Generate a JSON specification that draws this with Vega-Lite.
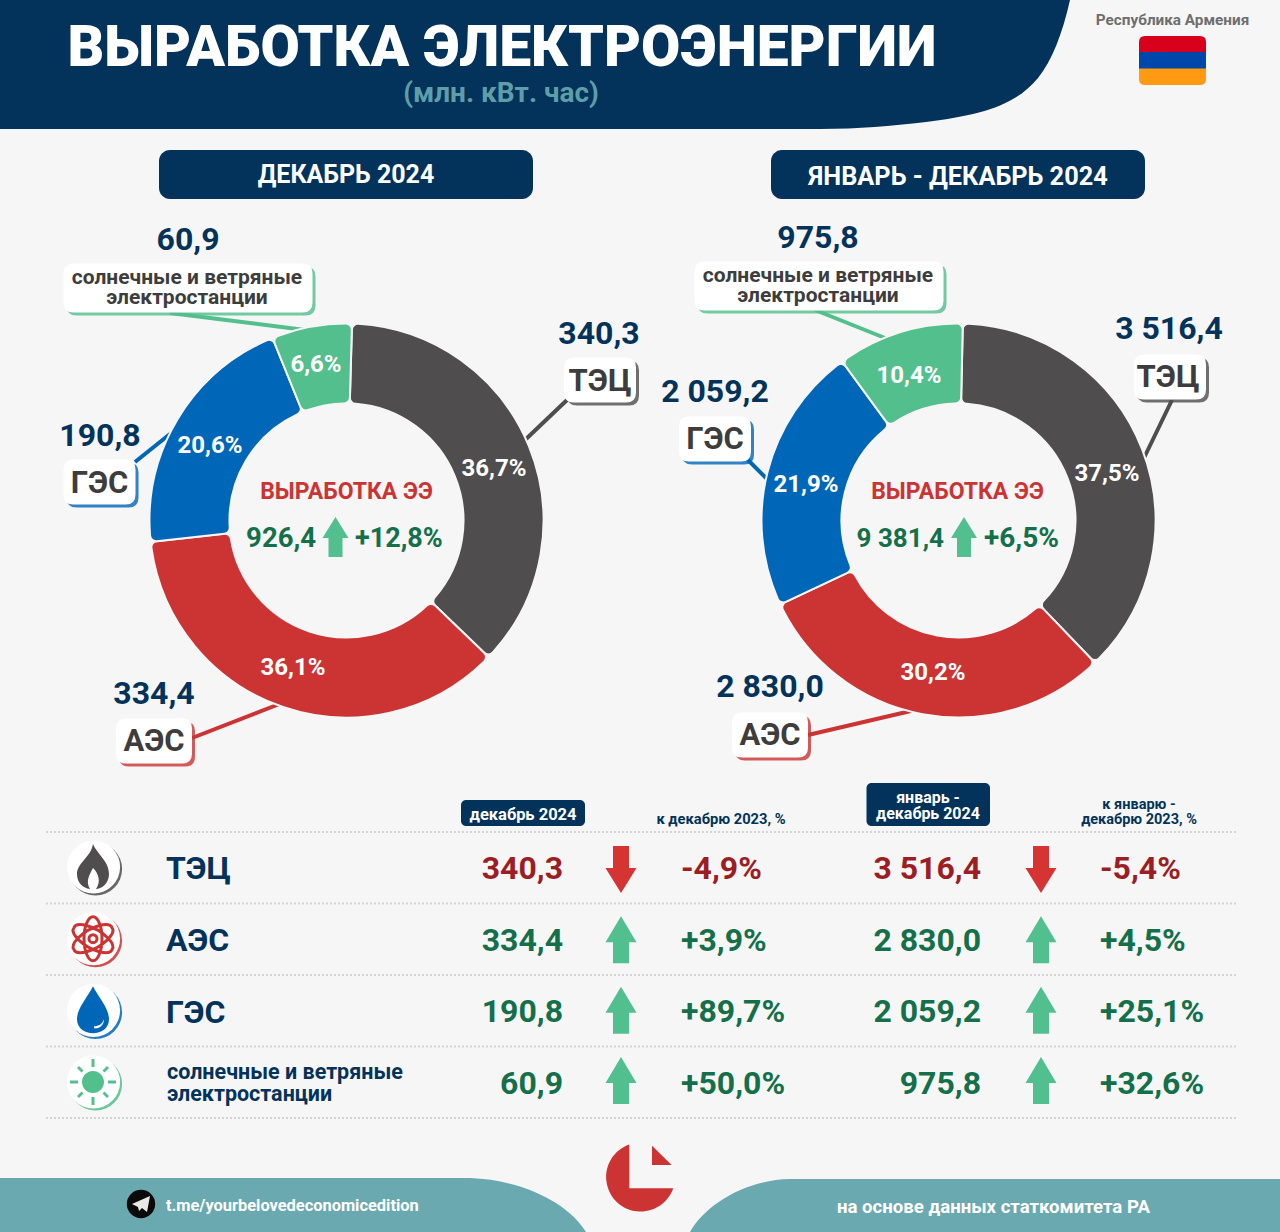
{"$schema":"https://vega.github.io/schema/vega-lite/v6.json","width":1280,"height":1232,"padding":0,"autosize":{"type":"fit","contains":"padding"},"background":"#f6f6f6",
"config":{"view":{"stroke":null},"axis":{"disable":true},"legend":{"disable":true},"text":{"font":"Roboto","fontWeight":"bold"}},
"datasets":{"energy":[
{"rank":1,"source":"ТЭЦ","name":"ТЭЦ","dec":340.3,"year":3516.4,"decText":"340,3","yearText":"3 516,4","decShare":"36,7%","yearShare":"37,5%","decChange":"-4,9%","yearChange":"-5,4%","decDir":"down","yearDir":"down"},
{"rank":2,"source":"АЭС","name":"АЭС","dec":334.4,"year":2830.0,"decText":"334,4","yearText":"2 830,0","decShare":"36,1%","yearShare":"30,2%","decChange":"+3,9%","yearChange":"+4,5%","decDir":"up","yearDir":"up"},
{"rank":3,"source":"ГЭС","name":"ГЭС","dec":190.8,"year":2059.2,"decText":"190,8","yearText":"2 059,2","decShare":"20,6%","yearShare":"21,9%","decChange":"+89,7%","yearChange":"+25,1%","decDir":"up","yearDir":"up"},
{"rank":4,"source":"солнечные и ветряные","name":"солнечные и ветряные|электростанции","dec":60.9,"year":975.8,"decText":"60,9","yearText":"975,8","decShare":"6,6%","yearShare":"10,4%","decChange":"+50,0%","yearChange":"+32,6%","decDir":"up","yearDir":"up"}
]},
"resolve":{"scale":{"x":"independent","y":"independent","theta":"independent","color":"independent","shape":"independent"}},
"layer":[
{"data":{"values":[{"part":"шапка"}]},"mark":{"type":"point","filled":true,"opacity":1,"strokeWidth":0,"size":4,"color":"#03335a","shape":"M0,0 H1070 C1062,35 1052,60 1038,78 C1015,106 980,115 926,122 C890,126 860,129 820,129 H0 Z"},"encoding":{"x":{"datum":0,"scale":{"domain":[0,1280],"range":[0,1280]}},"y":{"datum":0,"scale":{"domain":[0,1232],"range":[0,1232]}}}},
{"data":{"values":[{"part":"подвал"}]},"mark":{"type":"point","filled":true,"opacity":1,"strokeWidth":0,"size":4,"color":"#6aa9b0","shape":"M0,1178 H470 C525,1180 570,1205 586,1232 H0 Z M690,1232 C705,1205 745,1180 790,1179 H1280 V1232 Z"},"encoding":{"x":{"datum":0,"scale":{"domain":[0,1280],"range":[0,1280]}},"y":{"datum":0,"scale":{"domain":[0,1232],"range":[0,1232]}}}},
{"data":{"values":[{"part":"логотип"}]},"mark":{"type":"point","filled":true,"opacity":1,"strokeWidth":0,"size":4,"color":"#cc3333","shape":"M629.3,1144.5 V1188.3 H673.3 A34.5,34.5,0,1,1,629.3,1144.5 Z M652,1145.7 L671.7,1165 H652 Z"},"encoding":{"x":{"datum":0,"scale":{"domain":[0,1280],"range":[0,1280]}},"y":{"datum":0,"scale":{"domain":[0,1232],"range":[0,1232]}}}},
{"data":{"values":[{"stripe":"красный"},{"stripe":"синий"},{"stripe":"оранжевый"}]},"mark":{"type":"point","filled":true,"opacity":1,"strokeWidth":0,"size":4},"encoding":{"x":{"datum":1172.5,"scale":{"domain":[0,1280],"range":[0,1280]}},"y":{"datum":60.5,"scale":{"domain":[0,1232],"range":[0,1232]}},"color":{"field":"stripe","scale":{"domain":["красный","синий","оранжевый"],"range":["#d9001b","#0047ab","#ff9a12"]}},"shape":{"field":"stripe","scale":{"domain":["красный","синий","оранжевый"],"range":["M-33.5,-8 V-18.5 Q-33.5,-24.5 -27.5,-24.5 H27.5 Q33.5,-24.5 33.5,-18.5 V-8 Z","M-33.5,-8.5 H33.5 V8.5 H-33.5 Z","M-33.5,8 H33.5 V18.5 Q33.5,24.5 27.5,24.5 H-27.5 Q-33.5,24.5 -33.5,18.5 V8 Z"]}}}},
{"data":{"values":[{"t":"ВЫРАБОТКА  ЭЛЕКТРОЭНЕРГИИ"}]},"mark":{"type":"text","fontSize":57,"fontWeight":900,"color":"#ffffff","baseline":"middle"},"encoding":{"x":{"datum":502,"scale":{"domain":[0,1280],"range":[0,1280]}},"y":{"datum":49,"scale":{"domain":[0,1232],"range":[0,1232]}},"text":{"field":"t"}}},
{"data":{"values":[{"t":"(млн. кВт. час)"}]},"mark":{"type":"text","fontSize":28,"color":"#5e9ea8","baseline":"middle"},"encoding":{"x":{"datum":501,"scale":{"domain":[0,1280],"range":[0,1280]}},"y":{"datum":94,"scale":{"domain":[0,1232],"range":[0,1232]}},"text":{"field":"t"}}},
{"data":{"values":[{"t":"Республика Армения"}]},"mark":{"type":"text","fontSize":15.3,"color":"#6e6e6e","baseline":"middle"},"encoding":{"x":{"datum":1172.5,"scale":{"domain":[0,1280],"range":[0,1280]}},"y":{"datum":20,"scale":{"domain":[0,1232],"range":[0,1232]}},"text":{"field":"t"}}},
{"data":{"values":[{"t":"ДЕКАБРЬ 2024"}]},"mark":{"type":"rect","color":"#03335a","cornerRadius":11},"encoding":{"x":{"datum":159,"scale":{"domain":[0,1280],"range":[0,1280]}},"x2":{"datum":533},"y":{"datum":150,"scale":{"domain":[0,1232],"range":[0,1232]}},"y2":{"datum":199}}},
{"data":{"values":[{"t":"ЯНВАРЬ - ДЕКАБРЬ 2024"}]},"mark":{"type":"rect","color":"#03335a","cornerRadius":11},"encoding":{"x":{"datum":771,"scale":{"domain":[0,1280],"range":[0,1280]}},"x2":{"datum":1145},"y":{"datum":150,"scale":{"domain":[0,1232],"range":[0,1232]}},"y2":{"datum":199}}},
{"data":{"values":[{"t":"ДЕКАБРЬ 2024"}]},"mark":{"type":"text","fontSize":25,"color":"#ffffff","baseline":"middle"},"encoding":{"x":{"datum":346,"scale":{"domain":[0,1280],"range":[0,1280]}},"y":{"datum":175,"scale":{"domain":[0,1232],"range":[0,1232]}},"text":{"field":"t"}}},
{"data":{"values":[{"t":"ЯНВАРЬ - ДЕКАБРЬ 2024"}]},"mark":{"type":"text","fontSize":25.3,"color":"#ffffff","baseline":"middle"},"encoding":{"x":{"datum":958,"scale":{"domain":[0,1280],"range":[0,1280]}},"y":{"datum":177,"scale":{"domain":[0,1232],"range":[0,1232]}},"text":{"field":"t"}}},
{"data":{"name":"energy"},"mark":{"type":"point","filled":false,"opacity":1,"strokeWidth":4,"size":4},"encoding":{"x":{"datum":0,"scale":{"domain":[0,1280],"range":[0,1280]}},"y":{"datum":0,"scale":{"domain":[0,1232],"range":[0,1232]}},"color":{"field":"source","scale":{"domain":["ТЭЦ","АЭС","ГЭС","солнечные и ветряные"],"range":["#4f4d4e","#cc3333","#0066b8","#52bf8d"]}},"shape":{"field":"source","scale":{"domain":["ТЭЦ","АЭС","ГЭС","солнечные и ветряные"],"range":["M567,400 L525,440","M192,738 L282,703","M135,462 L175,430","M170,313 L305,330"]}}}},
{"data":{"name":"energy"},"mark":{"type":"point","filled":false,"opacity":1,"strokeWidth":4,"size":4},"encoding":{"x":{"datum":0,"scale":{"domain":[0,1280],"range":[0,1280]}},"y":{"datum":0,"scale":{"domain":[0,1232],"range":[0,1232]}},"color":{"field":"source","scale":{"domain":["ТЭЦ","АЭС","ГЭС","солнечные и ветряные"],"range":["#4f4d4e","#cc3333","#0066b8","#52bf8d"]}},"shape":{"field":"source","scale":{"domain":["ТЭЦ","АЭС","ГЭС","солнечные и ветряные"],"range":["M1172,400 L1143,460","M808,735 L915,710","M748,460 L768,480","M815,310 L890,340"]}}}},
{"data":{"name":"energy"},"mark":{"type":"arc","radius":197,"radius2":117,"cornerRadius":6,"stroke":"#f6f6f6","strokeWidth":2},"encoding":{"x":{"datum":346.5,"scale":{"domain":[0,1280],"range":[0,1280]}},"y":{"datum":520.5,"scale":{"domain":[0,1232],"range":[0,1232]}},"theta":{"field":"dec","type":"quantitative","stack":true,"scale":{"range":[0.028,6.311]}},"color":{"field":"source","scale":{"domain":["ТЭЦ","АЭС","ГЭС","солнечные и ветряные"],"range":["#4f4d4e","#cc3333","#0066b8","#52bf8d"]}},"order":{"field":"rank","type":"quantitative"}}},
{"data":{"name":"energy"},"mark":{"type":"arc","radius":197,"radius2":117,"cornerRadius":6,"stroke":"#f6f6f6","strokeWidth":2},"encoding":{"x":{"datum":958.5,"scale":{"domain":[0,1280],"range":[0,1280]}},"y":{"datum":520.5,"scale":{"domain":[0,1232],"range":[0,1232]}},"theta":{"field":"year","type":"quantitative","stack":true,"scale":{"range":[0.022,6.305]}},"color":{"field":"source","scale":{"domain":["ТЭЦ","АЭС","ГЭС","солнечные и ветряные"],"range":["#4f4d4e","#cc3333","#0066b8","#52bf8d"]}},"order":{"field":"rank","type":"quantitative"}}},
{"data":{"name":"energy"},"mark":{"type":"text","fontSize":24,"color":"#ffffff","baseline":"middle"},"encoding":{"x":{"field":"dec","type":"quantitative","scale":{"domain":[60.9,190.8,334.4,340.3],"range":[316,210,293,494]}},"y":{"field":"dec","type":"quantitative","scale":{"domain":[60.9,190.8,334.4,340.3],"range":[365,446,668,469]}},"text":{"field":"decShare"}}},
{"data":{"name":"energy"},"mark":{"type":"text","fontSize":24,"color":"#ffffff","baseline":"middle"},"encoding":{"x":{"field":"year","type":"quantitative","scale":{"domain":[975.8,2059.2,2830,3516.4],"range":[909,806,933,1107]}},"y":{"field":"year","type":"quantitative","scale":{"domain":[975.8,2059.2,2830,3516.4],"range":[376,485,673,474]}},"text":{"field":"yearShare"}}},
{"data":{"name":"energy"},"mark":{"type":"point","filled":true,"opacity":0.8,"strokeWidth":0,"size":4,"xOffset":3,"yOffset":3},"encoding":{"x":{"field":"dec","type":"quantitative","scale":{"domain":[60.9,190.8,334.4,340.3],"range":[188,99.5,154,600]}},"y":{"field":"dec","type":"quantitative","scale":{"domain":[60.9,190.8,334.4,340.3],"range":[288,482,741,380]}},"color":{"field":"source","scale":{"domain":["ТЭЦ","АЭС","ГЭС","солнечные и ветряные"],"range":["#4f4d4e","#cc3333","#0066b8","#52bf8d"]}},"shape":{"field":"source","scale":{"domain":["ТЭЦ","АЭС","ГЭС","солнечные и ветряные"],"range":["M-26,-22.5 H26 Q36,-22.5 36,-12.5 V12.5 Q36,22.5 26,22.5 H-26 Q-36,22.5 -36,12.5 V-12.5 Q-36,-22.5 -26,-22.5 Z","M-28,-22.5 H28 Q38,-22.5 38,-12.5 V12.5 Q38,22.5 28,22.5 H-28 Q-38,22.5 -38,12.5 V-12.5 Q-38,-22.5 -28,-22.5 Z","M-26,-22.5 H26 Q36,-22.5 36,-12.5 V12.5 Q36,22.5 26,22.5 H-26 Q-36,22.5 -36,12.5 V-12.5 Q-36,-22.5 -26,-22.5 Z","M-114.5,-24.5 H114.5 Q124.5,-24.5 124.5,-14.5 V14.5 Q124.5,24.5 114.5,24.5 H-114.5 Q-124.5,24.5 -124.5,14.5 V-14.5 Q-124.5,-24.5 -114.5,-24.5 Z"]}}}},
{"data":{"name":"energy"},"mark":{"type":"point","filled":true,"opacity":1,"strokeWidth":0,"size":4,"color":"#ffffff"},"encoding":{"x":{"field":"dec","type":"quantitative","scale":{"domain":[60.9,190.8,334.4,340.3],"range":[188,99.5,154,600]}},"y":{"field":"dec","type":"quantitative","scale":{"domain":[60.9,190.8,334.4,340.3],"range":[288,482,741,380]}},"shape":{"field":"source","scale":{"domain":["ТЭЦ","АЭС","ГЭС","солнечные и ветряные"],"range":["M-26,-22.5 H26 Q36,-22.5 36,-12.5 V12.5 Q36,22.5 26,22.5 H-26 Q-36,22.5 -36,12.5 V-12.5 Q-36,-22.5 -26,-22.5 Z","M-28,-22.5 H28 Q38,-22.5 38,-12.5 V12.5 Q38,22.5 28,22.5 H-28 Q-38,22.5 -38,12.5 V-12.5 Q-38,-22.5 -28,-22.5 Z","M-26,-22.5 H26 Q36,-22.5 36,-12.5 V12.5 Q36,22.5 26,22.5 H-26 Q-36,22.5 -36,12.5 V-12.5 Q-36,-22.5 -26,-22.5 Z","M-114.5,-24.5 H114.5 Q124.5,-24.5 124.5,-14.5 V14.5 Q124.5,24.5 114.5,24.5 H-114.5 Q-124.5,24.5 -124.5,14.5 V-14.5 Q-124.5,-24.5 -114.5,-24.5 Z"]}}}},
{"data":{"name":"energy"},"mark":{"type":"point","filled":true,"opacity":0.8,"strokeWidth":0,"size":4,"xOffset":3,"yOffset":3},"encoding":{"x":{"field":"year","type":"quantitative","scale":{"domain":[975.8,2059.2,2830,3516.4],"range":[819,715,770,1170]}},"y":{"field":"year","type":"quantitative","scale":{"domain":[975.8,2059.2,2830,3516.4],"range":[286,439,735,377]}},"color":{"field":"source","scale":{"domain":["ТЭЦ","АЭС","ГЭС","солнечные и ветряные"],"range":["#4f4d4e","#cc3333","#0066b8","#52bf8d"]}},"shape":{"field":"source","scale":{"domain":["ТЭЦ","АЭС","ГЭС","солнечные и ветряные"],"range":["M-26,-22.5 H26 Q36,-22.5 36,-12.5 V12.5 Q36,22.5 26,22.5 H-26 Q-36,22.5 -36,12.5 V-12.5 Q-36,-22.5 -26,-22.5 Z","M-28,-22.5 H28 Q38,-22.5 38,-12.5 V12.5 Q38,22.5 28,22.5 H-28 Q-38,22.5 -38,12.5 V-12.5 Q-38,-22.5 -28,-22.5 Z","M-26,-22.5 H26 Q36,-22.5 36,-12.5 V12.5 Q36,22.5 26,22.5 H-26 Q-36,22.5 -36,12.5 V-12.5 Q-36,-22.5 -26,-22.5 Z","M-114.5,-24.5 H114.5 Q124.5,-24.5 124.5,-14.5 V14.5 Q124.5,24.5 114.5,24.5 H-114.5 Q-124.5,24.5 -124.5,14.5 V-14.5 Q-124.5,-24.5 -114.5,-24.5 Z"]}}}},
{"data":{"name":"energy"},"mark":{"type":"point","filled":true,"opacity":1,"strokeWidth":0,"size":4,"color":"#ffffff"},"encoding":{"x":{"field":"year","type":"quantitative","scale":{"domain":[975.8,2059.2,2830,3516.4],"range":[819,715,770,1170]}},"y":{"field":"year","type":"quantitative","scale":{"domain":[975.8,2059.2,2830,3516.4],"range":[286,439,735,377]}},"shape":{"field":"source","scale":{"domain":["ТЭЦ","АЭС","ГЭС","солнечные и ветряные"],"range":["M-26,-22.5 H26 Q36,-22.5 36,-12.5 V12.5 Q36,22.5 26,22.5 H-26 Q-36,22.5 -36,12.5 V-12.5 Q-36,-22.5 -26,-22.5 Z","M-28,-22.5 H28 Q38,-22.5 38,-12.5 V12.5 Q38,22.5 28,22.5 H-28 Q-38,22.5 -38,12.5 V-12.5 Q-38,-22.5 -28,-22.5 Z","M-26,-22.5 H26 Q36,-22.5 36,-12.5 V12.5 Q36,22.5 26,22.5 H-26 Q-36,22.5 -36,12.5 V-12.5 Q-36,-22.5 -26,-22.5 Z","M-114.5,-24.5 H114.5 Q124.5,-24.5 124.5,-14.5 V14.5 Q124.5,24.5 114.5,24.5 H-114.5 Q-124.5,24.5 -124.5,14.5 V-14.5 Q-124.5,-24.5 -114.5,-24.5 Z"]}}}},
{"data":{"name":"energy"},"transform":[{"filter":"datum.rank < 4"}],"mark":{"type":"text","fontSize":31,"color":"#3d3d3d","baseline":"middle"},"encoding":{"x":{"field":"dec","type":"quantitative","scale":{"domain":[60.9,190.8,334.4,340.3],"range":[188,99.5,154,600]}},"y":{"field":"dec","type":"quantitative","scale":{"domain":[60.9,190.8,334.4,340.3],"range":[288,484,742,382]}},"text":{"field":"name"}}},
{"data":{"name":"energy"},"transform":[{"filter":"datum.rank < 4"}],"mark":{"type":"text","fontSize":31,"color":"#3d3d3d","baseline":"middle"},"encoding":{"x":{"field":"year","type":"quantitative","scale":{"domain":[975.8,2059.2,2830,3516.4],"range":[819,715,770,1168]}},"y":{"field":"year","type":"quantitative","scale":{"domain":[975.8,2059.2,2830,3516.4],"range":[286,440,736,378]}},"text":{"field":"name"}}},
{"data":{"name":"energy"},"transform":[{"filter":"datum.rank == 4"}],"mark":{"type":"text","fontSize":21,"color":"#3d3d3d","baseline":"middle","lineBreak":"|","lineHeight":19.5},"encoding":{"x":{"datum":187,"scale":{"domain":[0,1280],"range":[0,1280]}},"y":{"datum":278,"scale":{"domain":[0,1232],"range":[0,1232]}},"text":{"field":"name"}}},
{"data":{"name":"energy"},"transform":[{"filter":"datum.rank == 4"}],"mark":{"type":"text","fontSize":21,"color":"#3d3d3d","baseline":"middle","lineBreak":"|","lineHeight":19.5},"encoding":{"x":{"datum":818,"scale":{"domain":[0,1280],"range":[0,1280]}},"y":{"datum":276,"scale":{"domain":[0,1232],"range":[0,1232]}},"text":{"field":"name"}}},
{"data":{"name":"energy"},"mark":{"type":"text","fontSize":32,"color":"#03335a","baseline":"middle"},"encoding":{"x":{"field":"dec","type":"quantitative","scale":{"domain":[60.9,190.8,334.4,340.3],"range":[188,100,154,599]}},"y":{"field":"dec","type":"quantitative","scale":{"domain":[60.9,190.8,334.4,340.3],"range":[240,436,694,334]}},"text":{"field":"decText"}}},
{"data":{"name":"energy"},"mark":{"type":"text","fontSize":32,"color":"#03335a","baseline":"middle"},"encoding":{"x":{"field":"year","type":"quantitative","scale":{"domain":[975.8,2059.2,2830,3516.4],"range":[818,715,770,1169]}},"y":{"field":"year","type":"quantitative","scale":{"domain":[975.8,2059.2,2830,3516.4],"range":[238,392,687,329]}},"text":{"field":"yearText"}}},
{"data":{"values":[{"t":"ВЫРАБОТКА ЭЭ"}]},"mark":{"type":"text","fontSize":23,"color":"#cc3333","baseline":"middle"},"encoding":{"x":{"datum":346.5,"scale":{"domain":[0,1280],"range":[0,1280]}},"y":{"datum":492,"scale":{"domain":[0,1232],"range":[0,1232]}},"text":{"field":"t"}}},
{"data":{"values":[{"t":"ВЫРАБОТКА ЭЭ"}]},"mark":{"type":"text","fontSize":23,"color":"#cc3333","baseline":"middle"},"encoding":{"x":{"datum":957.5,"scale":{"domain":[0,1280],"range":[0,1280]}},"y":{"datum":492,"scale":{"domain":[0,1232],"range":[0,1232]}},"text":{"field":"t"}}},
{"data":{"values":[{"t":"926,4"}]},"mark":{"type":"text","fontSize":27.5,"color":"#14704a","baseline":"middle","align":"right"},"encoding":{"x":{"datum":316,"scale":{"domain":[0,1280],"range":[0,1280]}},"y":{"datum":539,"scale":{"domain":[0,1232],"range":[0,1232]}},"text":{"field":"t"}}},
{"data":{"values":[{"t":"+12,8%"}]},"mark":{"type":"text","fontSize":27,"color":"#14704a","baseline":"middle","align":"left"},"encoding":{"x":{"datum":355,"scale":{"domain":[0,1280],"range":[0,1280]}},"y":{"datum":539,"scale":{"domain":[0,1232],"range":[0,1232]}},"text":{"field":"t"}}},
{"data":{"values":[{"t":"9 381,4"}]},"mark":{"type":"text","fontSize":26,"color":"#14704a","baseline":"middle","align":"right"},"encoding":{"x":{"datum":944,"scale":{"domain":[0,1280],"range":[0,1280]}},"y":{"datum":539,"scale":{"domain":[0,1232],"range":[0,1232]}},"text":{"field":"t"}}},
{"data":{"values":[{"t":"+6,5%"}]},"mark":{"type":"text","fontSize":28,"color":"#14704a","baseline":"middle","align":"left"},"encoding":{"x":{"datum":984,"scale":{"domain":[0,1280],"range":[0,1280]}},"y":{"datum":539,"scale":{"domain":[0,1232],"range":[0,1232]}},"text":{"field":"t"}}},
{"data":{"values":[{"part":"стрелка"}]},"mark":{"type":"point","filled":true,"opacity":1,"strokeWidth":0,"size":4,"color":"#52c08e","shape":"M0,-20 L13,1 H7 V20 H-7 V1 H-13 Z"},"encoding":{"x":{"datum":335.5,"scale":{"domain":[0,1280],"range":[0,1280]}},"y":{"datum":537,"scale":{"domain":[0,1232],"range":[0,1232]}}}},
{"data":{"values":[{"part":"стрелка"}]},"mark":{"type":"point","filled":true,"opacity":1,"strokeWidth":0,"size":4,"color":"#52c08e","shape":"M0,-20 L13,1 H7 V20 H-7 V1 H-13 Z"},"encoding":{"x":{"datum":964,"scale":{"domain":[0,1280],"range":[0,1280]}},"y":{"datum":537,"scale":{"domain":[0,1232],"range":[0,1232]}}}},
{"data":{"values":[{"n":1},{"n":2},{"n":3},{"n":4},{"n":5}]},"mark":{"type":"rule","color":"#d4d4d4","strokeWidth":2,"strokeDash":[2,2]},"encoding":{"x":{"datum":46,"scale":{"domain":[0,1280],"range":[0,1280]}},"x2":{"datum":1236},"y":{"field":"n","type":"quantitative","scale":{"domain":[1,5],"range":[832,1118]}}}},
{"data":{"values":[{"t":"декабрь 2024"}]},"mark":{"type":"rect","color":"#03335a","cornerRadius":5},"encoding":{"x":{"datum":461,"scale":{"domain":[0,1280],"range":[0,1280]}},"x2":{"datum":585},"y":{"datum":800,"scale":{"domain":[0,1232],"range":[0,1232]}},"y2":{"datum":826}}},
{"data":{"values":[{"t":"январь - декабрь 2024"}]},"mark":{"type":"rect","color":"#03335a","cornerRadius":5},"encoding":{"x":{"datum":866.5,"scale":{"domain":[0,1280],"range":[0,1280]}},"x2":{"datum":990},"y":{"datum":783,"scale":{"domain":[0,1232],"range":[0,1232]}},"y2":{"datum":826}}},
{"data":{"values":[{"t":"декабрь 2024"}]},"mark":{"type":"text","fontSize":16.5,"color":"#ffffff","baseline":"middle"},"encoding":{"x":{"datum":523,"scale":{"domain":[0,1280],"range":[0,1280]}},"y":{"datum":815,"scale":{"domain":[0,1232],"range":[0,1232]}},"text":{"field":"t"}}},
{"data":{"values":[{"t":"январь -|декабрь 2024"}]},"mark":{"type":"text","fontSize":16,"color":"#ffffff","baseline":"middle","lineBreak":"|","lineHeight":16},"encoding":{"x":{"datum":928,"scale":{"domain":[0,1280],"range":[0,1280]}},"y":{"datum":798,"scale":{"domain":[0,1232],"range":[0,1232]}},"text":{"field":"t"}}},
{"data":{"values":[{"t":"к декабрю 2023, %"}]},"mark":{"type":"text","fontSize":14.7,"color":"#03335a","baseline":"middle"},"encoding":{"x":{"datum":721,"scale":{"domain":[0,1280],"range":[0,1280]}},"y":{"datum":820,"scale":{"domain":[0,1232],"range":[0,1232]}},"text":{"field":"t"}}},
{"data":{"values":[{"t":"к январю -|декабрю 2023, %"}]},"mark":{"type":"text","fontSize":14.5,"color":"#03335a","baseline":"middle","lineBreak":"|","lineHeight":15},"encoding":{"x":{"datum":1139,"scale":{"domain":[0,1280],"range":[0,1280]}},"y":{"datum":805,"scale":{"domain":[0,1232],"range":[0,1232]}},"text":{"field":"t"}}},
{"data":{"name":"energy"},"mark":{"type":"point","shape":"circle","filled":true,"opacity":0.85,"strokeWidth":0,"size":2827,"xOffset":2,"yOffset":2},"encoding":{"x":{"datum":93.5,"scale":{"domain":[0,1280],"range":[0,1280]}},"y":{"field":"source","type":"nominal","scale":{"domain":["ТЭЦ","АЭС","ГЭС","солнечные и ветряные"],"range":[867,1082],"padding":0}},"color":{"field":"source","scale":{"domain":["ТЭЦ","АЭС","ГЭС","солнечные и ветряные"],"range":["#4f4d4e","#cc3333","#0066b8","#52bf8d"]}}}},
{"data":{"name":"energy"},"mark":{"type":"point","shape":"circle","filled":true,"opacity":1,"strokeWidth":0,"size":2827,"color":"#ffffff"},"encoding":{"x":{"datum":93.5,"scale":{"domain":[0,1280],"range":[0,1280]}},"y":{"field":"source","type":"nominal","scale":{"domain":["ТЭЦ","АЭС","ГЭС","солнечные и ветряные"],"range":[867,1082],"padding":0}}}},
{"data":{"name":"energy"},"transform":[{"filter":"datum.source != 'АЭС'"}],"mark":{"type":"point","filled":true,"opacity":1,"strokeWidth":0,"size":4},"encoding":{"x":{"datum":93,"scale":{"domain":[0,1280],"range":[0,1280]}},"y":{"field":"source","type":"nominal","scale":{"domain":["ТЭЦ","АЭС","ГЭС","солнечные и ветряные"],"range":[867,1082],"padding":0}},"color":{"field":"source","scale":{"domain":["ТЭЦ","АЭС","ГЭС","солнечные и ветряные"],"range":["#4f4d4e","#cc3333","#0066b8","#52bf8d"]}},"shape":{"field":"source","scale":{"domain":["ТЭЦ","АЭС","ГЭС","солнечные и ветряные"],"range":["M0,-23 C4,-13 16,-6 16,7 C16,17 8,22 3,22 C8,15 6,7 0,1 C-3,7 -8,14 -3,22 C-10,21 -16,16 -16,7 C-16,-4 -2,-10 0,-23 Z","M0,0 Z","M0,-24 C6,-12 16,-2 16,9 C16,18 8,23 0,23 C-8,23 -16,18 -16,9 C-16,-2 -6,-12 0,-24 Z M1,18 C6,19 11,15 11,9 C9,14 6,16 1,16 Z","M11,0 A11,11,0,1,1,-11,0 A11,11,0,1,1,11,0 Z M-1.5,-23 H1.5 V-15 H-1.5 Z M-1.5,15 H1.5 V23 H-1.5 Z M-23,-1.5 H-15 V1.5 H-23 Z M15,-1.5 H23 V1.5 H15 Z M16,-14 L14,-16 L9.5,-11.5 L11.5,-9.5 Z M-14,-16 L-16,-14 L-11.5,-9.5 L-9.5,-11.5 Z M16,14 L11.5,9.5 L9.5,11.5 L14,16 Z M-16,14 L-14,16 L-9.5,11.5 L-11.5,9.5 Z"]}}}},
{"data":{"name":"energy"},"transform":[{"filter":"datum.source == 'АЭС'"}],"mark":{"type":"point","filled":false,"opacity":1,"strokeWidth":3,"size":4,"color":"#cc3333","shape":"M0,-22 A22,9,90,1,1,0,22 A22,9,90,1,1,0,-22 Z M19,11 A22,9,30,1,1,-19,-11 A22,9,30,1,1,19,11 Z M-19,11 A22,9,150,1,1,19,-11 A22,9,150,1,1,-19,11 Z M4,0 A4,4,0,1,1,-4,0 A4,4,0,1,1,4,0 Z"},"encoding":{"x":{"datum":93,"scale":{"domain":[0,1280],"range":[0,1280]}},"y":{"field":"source","type":"nominal","scale":{"domain":["ТЭЦ","АЭС","ГЭС","солнечные и ветряные"],"range":[867,1082],"padding":0}}}},
{"data":{"name":"energy","note":"names"},"transform":[{"filter":"datum.rank < 4"}],"mark":{"type":"text","fontSize":32,"color":"#03335a","baseline":"middle","align":"left"},"encoding":{"x":{"datum":166,"scale":{"domain":[0,1280],"range":[0,1280]}},"y":{"field":"source","type":"nominal","scale":{"domain":["ТЭЦ","АЭС","ГЭС","солнечные и ветряные"],"range":[869,1085],"padding":0}},"text":{"field":"name"}}},
{"data":{"name":"energy"},"transform":[{"filter":"datum.rank == 4"}],"mark":{"type":"text","fontSize":21.5,"color":"#03335a","baseline":"middle","align":"left","lineBreak":"|","lineHeight":22},"encoding":{"x":{"datum":167,"scale":{"domain":[0,1280],"range":[0,1280]}},"y":{"datum":1073,"scale":{"domain":[0,1232],"range":[0,1232]}},"text":{"field":"name"}}},
{"data":{"name":"energy"},"mark":{"type":"text","fontSize":32,"baseline":"middle","align":"right"},"encoding":{"x":{"datum":563,"scale":{"domain":[0,1280],"range":[0,1280]}},"y":{"field":"source","type":"nominal","scale":{"domain":["ТЭЦ","АЭС","ГЭС","солнечные и ветряные"],"range":[869,1084],"padding":0}},"color":{"field":"decDir","scale":{"domain":["up","down"],"range":["#14704a","#9c1e24"]}},"text":{"field":"decText"}}},
{"data":{"name":"energy"},"mark":{"type":"text","fontSize":32,"baseline":"middle","align":"left"},"encoding":{"x":{"datum":681,"scale":{"domain":[0,1280],"range":[0,1280]}},"y":{"field":"source","type":"nominal","scale":{"domain":["ТЭЦ","АЭС","ГЭС","солнечные и ветряные"],"range":[869,1084],"padding":0}},"color":{"field":"decDir","scale":{"domain":["up","down"],"range":["#14704a","#9c1e24"]}},"text":{"field":"decChange"}}},
{"data":{"name":"energy"},"mark":{"type":"text","fontSize":32,"baseline":"middle","align":"right"},"encoding":{"x":{"datum":981,"scale":{"domain":[0,1280],"range":[0,1280]}},"y":{"field":"source","type":"nominal","scale":{"domain":["ТЭЦ","АЭС","ГЭС","солнечные и ветряные"],"range":[869,1084],"padding":0}},"color":{"field":"yearDir","scale":{"domain":["up","down"],"range":["#14704a","#9c1e24"]}},"text":{"field":"yearText"}}},
{"data":{"name":"energy"},"mark":{"type":"text","fontSize":32,"baseline":"middle","align":"left"},"encoding":{"x":{"datum":1100,"scale":{"domain":[0,1280],"range":[0,1280]}},"y":{"field":"source","type":"nominal","scale":{"domain":["ТЭЦ","АЭС","ГЭС","солнечные и ветряные"],"range":[869,1084],"padding":0}},"color":{"field":"yearDir","scale":{"domain":["up","down"],"range":["#14704a","#9c1e24"]}},"text":{"field":"yearChange"}}},
{"data":{"name":"energy"},"mark":{"type":"point","filled":true,"opacity":1,"strokeWidth":0,"size":4},"encoding":{"x":{"datum":621,"scale":{"domain":[0,1280],"range":[0,1280]}},"y":{"field":"source","type":"nominal","scale":{"domain":["ТЭЦ","АЭС","ГЭС","солнечные и ветряные"],"range":[869.5,1080.5],"padding":0}},"color":{"field":"decDir","scale":{"domain":["up","down"],"range":["#52c08e","#d63333"]}},"shape":{"field":"decDir","scale":{"domain":["up","down"],"range":["M0,-23.5 L15.5,2.5 H8 V23.5 H-8 V2.5 H-15.5 Z","M-8,-23.5 H8 V-1.5 H15.5 L0,23.5 L-15.5,-1.5 H-8 Z"]}}}},
{"data":{"name":"energy"},"mark":{"type":"point","filled":true,"opacity":1,"strokeWidth":0,"size":4},"encoding":{"x":{"datum":1041,"scale":{"domain":[0,1280],"range":[0,1280]}},"y":{"field":"source","type":"nominal","scale":{"domain":["ТЭЦ","АЭС","ГЭС","солнечные и ветряные"],"range":[869.5,1080.5],"padding":0}},"color":{"field":"yearDir","scale":{"domain":["up","down"],"range":["#52c08e","#d63333"]}},"shape":{"field":"yearDir","scale":{"domain":["up","down"],"range":["M0,-23.5 L15.5,2.5 H8 V23.5 H-8 V2.5 H-15.5 Z","M-8,-23.5 H8 V-1.5 H15.5 L0,23.5 L-15.5,-1.5 H-8 Z"]}}}},
{"data":{"values":[{"part":"telegram"}]},"mark":{"type":"point","shape":"circle","filled":true,"opacity":1,"strokeWidth":0,"size":804,"color":"#0a0a0a"},"encoding":{"x":{"datum":141,"scale":{"domain":[0,1280],"range":[0,1280]}},"y":{"datum":1204,"scale":{"domain":[0,1232],"range":[0,1232]}}}},
{"data":{"values":[{"part":"telegram"}]},"mark":{"type":"point","filled":true,"opacity":1,"strokeWidth":0,"size":4,"color":"#e8e8e8","shape":"M-9,0 L9,-8 L6,8 L1,4 L-2,7 L-3,3 Z"},"encoding":{"x":{"datum":141,"scale":{"domain":[0,1280],"range":[0,1280]}},"y":{"datum":1204,"scale":{"domain":[0,1232],"range":[0,1232]}}}},
{"data":{"values":[{"t":"t.me/yourbelovedeconomicedition"}]},"mark":{"type":"text","fontSize":16.4,"color":"#ffffff","baseline":"middle","align":"left"},"encoding":{"x":{"datum":166,"scale":{"domain":[0,1280],"range":[0,1280]}},"y":{"datum":1206,"scale":{"domain":[0,1232],"range":[0,1232]}},"text":{"field":"t"}}},
{"data":{"values":[{"t":"на основе данных статкомитета РА"}]},"mark":{"type":"text","fontSize":18.6,"color":"#ffffff","baseline":"middle","align":"left"},"encoding":{"x":{"datum":837,"scale":{"domain":[0,1280],"range":[0,1280]}},"y":{"datum":1207,"scale":{"domain":[0,1232],"range":[0,1232]}},"text":{"field":"t"}}}
]}
